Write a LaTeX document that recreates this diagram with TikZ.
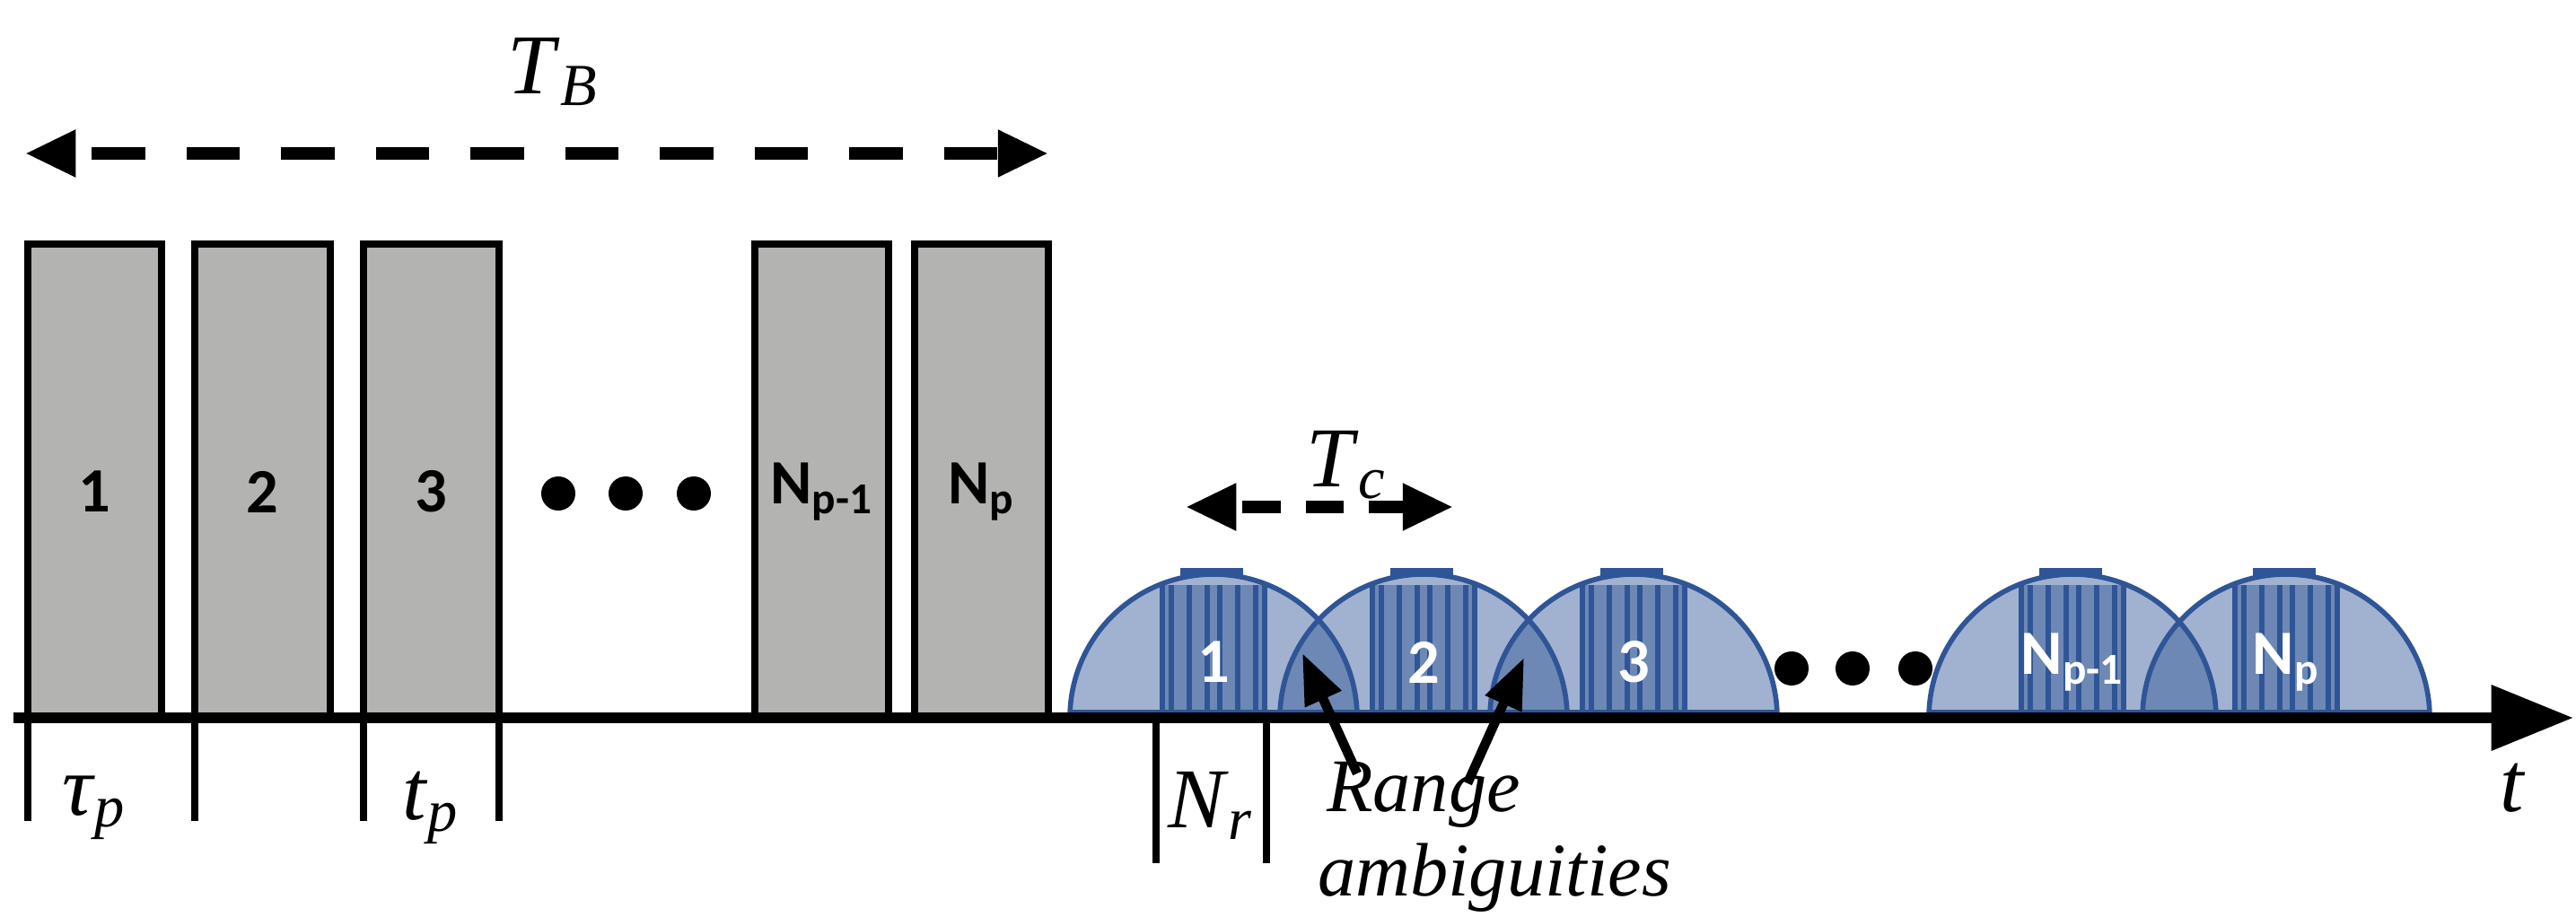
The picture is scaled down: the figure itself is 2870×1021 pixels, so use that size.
\documentclass[tikz,border=0pt]{standalone}
\usepackage{fontspec}
\setmainfont{Liberation Serif}
\newfontfamily\lblfont{Carlito}
\usetikzlibrary{arrows.meta}
\definecolor{dblue}{RGB}{47,85,151}
\newcommand{\sv}[2]{\textit{#1}\textsubscript{\textit{#2}}}
\begin{document}
\begin{tikzpicture}[x=0.01cm,y=-0.01cm,
  pulse/.style={draw=black,line width=2.4pt,fill={rgb,255:red,179;green,180;blue,178}},
  plbl/.style={font=\lblfont\bfseries\fontsize{20}{22}\selectfont},
  dlbl/.style={font=\lblfont\bfseries\fontsize{20}{22}\selectfont,text=white},
  math/.style={font=\fontsize{27}{30}\selectfont},
  itx/.style={font=\itshape\fontsize{24}{26}\selectfont},
  tick/.style={line width=2.4pt},
  bigarrow/.style={line width=3.8pt,{Triangle[length=16pt,width=14pt]}-{Triangle[length=16pt,width=14pt]}},
  dot/.style={circle,fill=black,minimum width=0.32cm,minimum height=0.38cm,inner sep=0pt},
  domefill/.style={draw=dblue,line width=1.6pt,fill=dblue,fill opacity=0.45},
]
\useasboundingbox (0,0) rectangle (2870,1021);
% pulses
\foreach \a/\b/\l/\n in {31/180/1/p1,217/368/2/p2,405/556/3/p3,841/990/{N\textsubscript{p-1}}/p4,1019/1168/{N\textsubscript{p}}/p5}{
  \draw[pulse] (\a,272) rectangle (\b,800);
  \node[plbl] (\n) at ({(\a+\b)/2},548) {\l};
}
\foreach \x/\n in {622/d1,697/d2,773/d3}{\node[dot] (\n) at (\x,550) {};}
% TB arrow
\coordinate (tbl) at (28,171);
\coordinate (tbr) at (1168,171);
\draw[bigarrow,dash pattern=on 17pt off 13pt,dash phase=-6pt] (tbl) -- (tbr);
\node[math] (TB) at (616,80) {\sv{T}{B}};
% domes
\foreach \c/\l/\n in {1352/1/q1,1586/2/q2,1820/3/q3,2309/{N\textsubscript{p-1}}/q4,2547/{N\textsubscript{p}}/q5}{
  \fill[dblue,fill opacity=0.45] (\c-57,800) rectangle (\c+57,652);
  \foreach \o in {-57,-47,-27,-7,7,27,47,57}{\draw[dblue,line width=1.8pt] (\c+\o,800) -- (\c+\o,652);}
  \draw[domefill] (\c-160,800) arc (180:360:160) -- cycle;
  \fill[dblue] (\c-37,633) rectangle (\c+33,643);
  \draw[dblue,line width=4pt] (\c-160,798) -- (\c+160,798);
  \node[dlbl] (\n) at (\c,738) {\l};
}
% axis
\coordinate (ax0) at (15,800);
\coordinate (ax1) at (2867,800);
\draw[line width=3.6pt,-{Triangle[length=26pt,width=20pt]}] (ax0) -- (ax1);
\node[math] (t) at (2800,878) {\textit{t}};
\foreach \x/\n in {1996/e1,2064/e2,2134/e3}{\node[dot] (\n) at (\x,745) {};}
% ticks
\foreach \x in {31,217,405,556}{\draw[tick] (\x,800) -- (\x,915);}
\node[math] (tau) at (105,900) {\sv{τ}{p}};
\node[math] (tp) at (480,900) {\sv{t}{p}};
\foreach \x in {1288,1411}{\draw[tick] (\x,800) -- (\x,962);}
\node[math] (Nr) at (1349,898) {\sv{N}{r}};
% Tc arrow
\coordinate (tcl) at (1321,565);
\coordinate (tcr) at (1619,565);
\draw[bigarrow,dash pattern=on 12pt off 8pt,dash phase=-3pt] (tcl) -- (tcr);
\node[math] (Tc) at (1500,518) {\sv{T}{c}};
% range ambiguities
\node[itx] (rng) at (1586,886) {Range};
\node[itx] (amb) at (1665,978) {ambiguities};
\coordinate (a1) at (1451,728);
\coordinate (a2) at (1698,733);
\draw[line width=3pt,-{Triangle[length=16pt,width=12pt]}] (1512,862) -- (a1);
\draw[line width=3pt,-{Triangle[length=16pt,width=12pt]}] (1635,873) -- (a2);
\end{tikzpicture}
\end{document}
